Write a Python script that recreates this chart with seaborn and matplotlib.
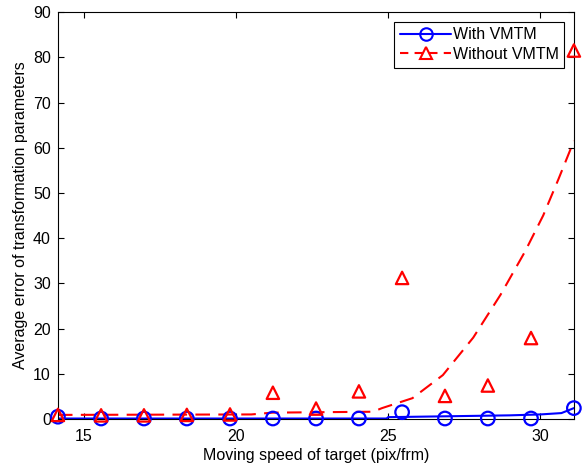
import numpy as np
import pandas as pd
import matplotlib
matplotlib.use("Agg")
import matplotlib.pyplot as plt
from matplotlib.lines import Line2D
import seaborn as sns

# measured points
speed = [14.14, 15.56, 16.97, 18.38, 19.80, 21.21, 22.63, 24.04, 25.46, 26.87, 28.28, 29.70, 31.11]
err_with = [0.5, 0.1, 0.1, 0.1, 0.1, 0.1, 0.1, 0.1, 1.5, 0.1, 0.1, 0.1, 2.4]
err_without = [0.9, 0.8, 0.8, 0.9, 1.0, 5.8, 2.3, 6.1, 31.2, 5.1, 7.4, 17.9, 81.5]

# fitted curves
fit_speed_with = [14.14, 24.95, 25.0, 27.0, 29.0, 30.0, 30.7, 31.11]
fit_with = [0.1, 0.1, 0.4, 0.6, 0.8, 1.0, 1.3, 2.4]
fit_speed_without = [14.14, 20.5, 21.2, 24.5, 24.8, 25.8, 26.8, 27.8, 28.7, 29.5, 30.1, 30.6, 31.11]
fit_without = [0.9, 1.0, 1.4, 1.6, 2.4, 4.6, 9.7, 18.0, 27.5, 37.0, 45.0, 53.0, 61.5]

xticks = [15, 20, 25, 30]
yticks = list(range(0, 91, 10))
labels = ["With VMTM", "Without VMTM"]

sns.set_style("ticks", {"text.color": "black", "axes.labelcolor": "black",
                        "xtick.color": "black", "ytick.color": "black"})
plt.rcParams["font.family"] = ["Liberation Sans", "DejaVu Sans"]

fig = plt.figure(figsize=(5.85, 4.65), dpi=100)
ax = fig.add_axes([0.099, 0.099, 0.882, 0.875])

blue = "#0000ff"
red = "#ff0000"

sns.lineplot(x=fit_speed_with, y=fit_with, ax=ax, color=blue, lw=1.5)
sns.lineplot(x=fit_speed_without, y=fit_without, ax=ax, color=red, lw=1.5)
ax.lines[-1].set_dashes([7, 4])
sns.scatterplot(x=speed, y=err_with, ax=ax, marker="o", s=95,
                facecolor="none", edgecolor=blue, linewidth=1.6, clip_on=False, zorder=3)
sns.scatterplot(x=speed, y=err_without, ax=ax, marker="^", s=80,
                facecolor="none", edgecolor=red, linewidth=1.6, clip_on=False, zorder=3)

ax.set_xlim(speed[0], speed[-1])
ax.set_ylim(0, 90)
ax.set_xticks(xticks)
ax.set_yticks(yticks)
ax.tick_params(direction="in", top=True, right=True, labelsize=11.5, length=4, width=0.8)
ax.tick_params(axis="x", pad=7)
ax.tick_params(axis="y", pad=5)
for s in ax.spines.values():
    s.set_linewidth(0.8)
    s.set_color("black")

ax.set_xlabel("Moving speed of target (pix/frm)", fontsize=11.5, labelpad=3)
ax.set_ylabel("Average error of transformation parameters", fontsize=11.5, labelpad=4)

handles = [
    Line2D([], [], color=blue, lw=1.5, marker="o", ms=9, mfc="none", mew=1.5),
    Line2D([], [], color=red, lw=1.5, ls=(0, (4, 3)), marker="^", ms=9, mfc="none", mew=1.5),
]
leg = ax.legend(handles, labels, loc="upper right", fontsize=11.5, handlelength=3.2,
                fancybox=False, framealpha=1, edgecolor="black", borderpad=0.35,
                labelspacing=0.3, handletextpad=0.1, borderaxespad=0.6)
leg.get_frame().set_linewidth(0.8)

fig.savefig("out.png", dpi=100)
